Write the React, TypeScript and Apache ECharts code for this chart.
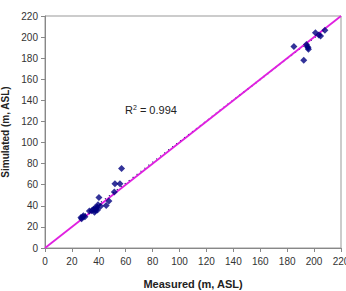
import React, { useEffect, useRef } from "react";
import * as echarts from "echarts";

const measured = [185, 192.3, 194.3, 195, 195.5, 195.8, 201, 203.5, 204.8, 208,
  56.9, 52, 55.7, 51.5, 40.1, 47.5, 45.5, 39.4, 41.3, 38.5, 38, 37.5, 36.8, 34.7, 33, 36, 37, 39, 28.5, 26.7, 27.2, 29.7, 28];
const simulated = [191, 178, 193, 191, 190, 188.5, 204, 202, 201, 206.5,
  75.4, 61, 61, 53, 48, 44.5, 40.4, 41, 39.5, 38.5, 37, 35.5, 34, 35.4, 35, 36.5, 38, 36, 30.6, 29, 27.8, 29.7, 29.5];
const identityLine = [[0, 0], [220, 220]];
const fitLine = [[27, 28.9], [208, 207.2]];
const r2Text = "0.994";

export default function App() {
  const ref = useRef<HTMLDivElement>(null);
  useEffect(() => {
    const chart = echarts.init(ref.current!, undefined, { renderer: "svg" });
    const font = "Liberation Sans, Arial, sans-serif";
    chart.setOption({
      animation: false,
      textStyle: { fontFamily: font },
      grid: {
        left: 45, right: 5, top: 16, bottom: 43, show: true, borderColor: "#999", borderWidth: 1,
        containLabel: false, outerBoundsMode: "none",
      },
      xAxis: {
        type: "value", min: 0, max: 220, interval: 20,
        name: "Measured (m, ASL)", nameLocation: "middle", nameGap: 30,
        nameTextStyle: { fontWeight: "bold", fontSize: 11, color: "#222", fontFamily: font },
        axisLine: { show: true, lineStyle: { color: "#888" } },
        axisTick: { show: true, inside: false, length: 4, lineStyle: { color: "#888" } },
        axisLabel: { fontSize: 10, color: "#333", margin: 8, fontFamily: font, hideOverlap: false },
        splitLine: { show: false },
      },
      yAxis: {
        type: "value", min: 0, max: 220, interval: 20,
        name: "Simulated (m, ASL)", nameLocation: "middle", nameGap: 28,
        nameTextStyle: { fontWeight: "bold", fontSize: 10, color: "#222", fontFamily: font },
        axisLine: { show: true, lineStyle: { color: "#888" } },
        axisTick: { show: true, inside: false, length: 4, lineStyle: { color: "#888" } },
        axisLabel: { fontSize: 10, color: "#333", margin: 7, fontFamily: font },
        splitLine: { show: false },
      },
      series: [
        {
          type: "line", data: fitLine, symbol: "none", z: 2,
          lineStyle: { color: "#000060", width: 1.5, type: [1, 4] },
        },
        {
          type: "line", data: identityLine, symbol: "none", z: 3,
          lineStyle: { color: "#e020e0", width: 1.8 },
        },
        {
          type: "scatter", z: 4,
          data: measured.map((m, i) => [m, simulated[i]]),
          symbol: "diamond", symbolSize: 7,
          itemStyle: { color: "#000080" },
        },
      ],
      graphic: [
        {
          type: "text", left: 125, top: 104,
          style: {
            text: "{a|R}{s|2}{a| = " + r2Text + "}",
            rich: {
              a: { fontSize: 11, fill: "#222", fontFamily: font },
              s: { fontSize: 7, fill: "#222", fontFamily: font, verticalAlign: "top", padding: [0, 0, 5, 0] },
            },
          },
        },
      ],
    });
    return () => chart.dispose();
  }, []);
  return <div ref={ref} style={{ width: 346, height: 291, position: "absolute", left: 0, top: 0, background: "#fff" }} />;
}
